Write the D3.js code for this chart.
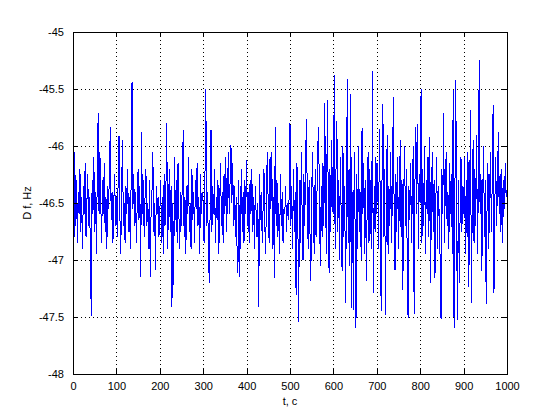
<!DOCTYPE html>
<html>
<head>
<meta charset="utf-8">
<script src="https://cdn.jsdelivr.net/npm/d3@7"></script>
<style>
  html, body { margin: 0; padding: 0; background: #fff; }
  svg { display: block; }
  text { font-family: "Liberation Sans", Arial, sans-serif; font-size: 11px; fill: #000; }
</style>
</head>
<body>
<svg id="chart" width="560" height="420"></svg>
<script>
// Sample spacing (seconds) and series values
const timeStep = 2;
const dfValues = [
  -46.55,-46.95,-46.05,-46.7,-46.3,-46.85,-46.4,-46.6,-46.2,-46.75,-46.45,-46.9,-46.35,-46.6,-46.15,-46.8,-46.5,-46.25,-46.7,-46.45,-46.9,-47.49,-46.3,-46.6,-46.1,-46.75,-46.4,-46.95,-46.2,-45.71,-46.6,-46.05,-46.5,-46.85,-46.3,-46.6,-46.15,-46.75,-46.45,-46.9,-46.35,-46.55,-46.2,-45.83,-46.65,-46.4,-46.85,-46.5,-46.25,-46.7,
  -46.45,-46.8,-46.3,-45.91,-46.6,-46.95,-46.4,-45.95,-46.7,-46.5,-46.85,-46.35,-46.6,-46.2,-46.75,-46.45,-46.9,-46.3,-45.44,-46.55,-46.25,-46.7,-46.4,-46.85,-46.5,-46.2,-46.65,-46.35,-47.15,-45.88,-46.6,-46.3,-46.8,-46.45,-46.2,-46.7,-46.5,-46.9,-46.3,-47.15,-46.55,-46.4,-46.05,-46.75,-46.5,-47.09,-46.35,-46.6,-46.45,-46.8,
  -46.6,-46.3,-46.85,-46.45,-46.95,-46.25,-46.7,-46.4,-45.8,-46.9,-46.55,-46.2,-46.75,-46.35,-47.41,-46.5,-47.22,-46.1,-46.65,-46.3,-46.85,-46.15,-46.6,-46.9,-46.4,-46.7,-46.25,-45.86,-46.8,-46.45,-46.95,-46.35,-46.6,-46.1,-46.75,-46.5,-46.9,-46.2,-46.65,-46.4,-46.85,-46.3,-46.55,-46.15,-46.7,-46.45,-46.95,-46.25,-46.6,-46.4,
  -46.5,-46.85,-46.3,-45.5,-46.7,-46.4,-46.9,-47.2,-46.55,-45.86,-46.75,-46.35,-46.6,-46.2,-46.85,-46.45,-46.65,-46.3,-46.95,-46.5,-46.15,-46.7,-46.4,-46.85,-46.25,-46.6,-46.1,-46.75,-46.4,-46.05,-46.6,-46.3,-45.99,-46.5,-46.15,-46.7,-46.35,-46.8,-46.45,-46.9,-47.11,-46.3,-47.15,-46.55,-46.2,-46.75,-46.4,-46.85,-46.3,-46.6,
  -46.12,-46.7,-46.4,-46.85,-46.3,-46.6,-46.2,-46.75,-46.45,-46.9,-46.35,-46.6,-46.8,-46.5,-47.41,-46.25,-46.65,-46.4,-46.85,-46.55,-46.2,-46.7,-46.95,-46.3,-46.05,-46.6,-46.85,-46.1,-46.55,-46.05,-46.9,-46.45,-47.16,-45.83,-46.7,-46.3,-46.8,-46.5,-46.95,-46.25,-46.7,-46.4,-46.85,-46.55,-46.6,-46.35,-46.75,-46.5,-46.65,-46.45,
  -45.8,-46.7,-46.35,-46.9,-46.2,-46.75,-46.4,-47.31,-46.15,-46.6,-47.54,-46.3,-46.85,-46.05,-46.6,-47.0,-46.25,-46.7,-46.1,-45.76,-46.55,-46.9,-46.3,-46.75,-47.18,-46.4,-46.05,-46.65,-46.95,-46.2,-46.8,-46.45,-46.0,-45.83,-46.6,-47.05,-46.35,-46.8,-46.15,-46.7,-45.62,-46.5,-46.95,-45.6,-46.4,-47.11,-46.2,-46.75,-45.95,-46.55,
  -46.6,-45.38,-46.9,-46.2,-45.78,-46.75,-46.3,-47.0,-46.1,-46.65,-47.1,-46.0,-46.8,-46.35,-47.38,-46.5,-45.41,-46.85,-46.2,-47.05,-45.54,-47.42,-46.4,-47.44,-46.05,-46.7,-47.6,-46.25,-46.9,-46.0,-46.75,-46.4,-47.0,-45.84,-46.6,-46.15,-46.95,-46.3,-47.18,-46.45,-46.05,-46.85,-46.2,-46.7,-46.9,-45.34,-47.29,-46.35,-46.75,-46.1,
  -46.6,-46.15,-46.9,-45.85,-46.5,-47.45,-46.3,-45.63,-46.8,-46.2,-47.48,-46.45,-45.9,-46.95,-46.35,-46.7,-46.05,-46.85,-46.4,-45.57,-46.6,-47.09,-46.25,-46.75,-46.1,-46.9,-46.5,-45.95,-46.8,-46.3,-47.26,-46.45,-46.0,-46.7,-46.2,-46.95,-47.51,-46.35,-46.65,-46.15,-46.85,-46.4,-46.0,-47.47,-46.3,-45.83,-46.6,-45.81,-46.9,-46.25,
  -46.5,-45.5,-46.85,-46.2,-46.7,-46.0,-46.95,-46.3,-46.6,-46.1,-46.8,-45.92,-47.2,-46.4,-46.05,-46.75,-46.3,-47.16,-46.5,-46.1,-46.9,-46.35,-46.65,-47.0,-47.52,-46.2,-46.6,-45.71,-46.85,-46.3,-46.05,-46.7,-46.4,-46.9,-46.15,-46.6,-46.25,-46.95,-45.51,-47.6,-46.4,-45.42,-46.8,-47.53,-46.3,-47.2,-46.6,-46.1,-46.75,-46.35,
  -46.6,-46.1,-46.95,-46.3,-46.8,-46.05,-47.24,-46.4,-45.68,-47.38,-46.5,-45.95,-46.85,-46.2,-46.7,-45.9,-46.95,-46.35,-45.25,-46.6,-46.25,-47.1,-46.45,-46.0,-46.8,-46.3,-47.39,-46.55,-46.15,-46.9,-46.4,-46.05,-46.75,-46.3,-45.64,-47.29,-46.5,-46.1,-46.7,-46.35,-45.88,-46.6,-46.25,-46.75,-46.2,-46.85,-46.3,-46.55,-46.15,-46.45,
  -46.39
];
const xTicks = [0, 100, 200, 300, 400, 500, 600, 700, 800, 900, 1000];
const yTicks = [-48, -47.5, -47, -46.5, -46, -45.5, -45];
const xDomain = [0, 1000];
const yDomain = [-48, -45];
const xLabel = "t, c";
const yLabel = "D f, Hz";

const svg = d3.select("#chart");
const m = { left: 73, top: 32, right: 53, bottom: 46 };
const W = 560, H = 420;
const pw = W - m.left - m.right, ph = H - m.top - m.bottom;

const x = d3.scaleLinear().domain(xDomain).range([m.left, m.left + pw]);
const y = d3.scaleLinear().domain(yDomain).range([m.top + ph, m.top]);

svg.append("rect").attr("width", W).attr("height", H).attr("fill", "#fff");

// grid
const grid = svg.append("g").attr("stroke", "#000").attr("stroke-width", 1)
  .attr("stroke-dasharray", "1,3").attr("shape-rendering", "crispEdges");
grid.selectAll("line.gx").data(xTicks.slice(1, -1)).join("line")
  .attr("x1", d => Math.round(x(d)) + 0.5).attr("x2", d => Math.round(x(d)) + 0.5)
  .attr("y1", m.top).attr("y2", m.top + ph);
grid.selectAll("line.gy").data(yTicks.slice(1, -1)).join("line")
  .attr("y1", d => Math.round(y(d)) + 0.5).attr("y2", d => Math.round(y(d)) + 0.5)
  .attr("x1", m.left).attr("x2", m.left + pw);

// data line
const line = d3.line().x((d, i) => x(i * timeStep)).y(d => y(d));
svg.append("path").datum(dfValues)
  .attr("d", line).attr("fill", "none").attr("stroke", "#0000ff").attr("stroke-width", 1)
  .attr("shape-rendering", "crispEdges");

// axes
const tickLen = 5;
const axB = d3.axisBottom(x).tickValues(xTicks).tickSizeInner(-tickLen).tickSizeOuter(0).tickPadding(8).tickFormat(d3.format("d"));
const axT = d3.axisTop(x).tickValues(xTicks).tickSizeInner(-tickLen).tickSizeOuter(0).tickFormat("");
const axL = d3.axisLeft(y).tickValues(yTicks).tickSizeInner(-tickLen).tickSizeOuter(0).tickPadding(9).tickFormat(d => String(d));
const axR = d3.axisRight(y).tickValues(yTicks).tickSizeInner(-tickLen).tickSizeOuter(0).tickFormat("");

function style(g) {
  g.selectAll("path").attr("stroke", "#000").attr("shape-rendering", "crispEdges");
  g.selectAll("line").attr("stroke", "#000").attr("shape-rendering", "crispEdges");
  g.selectAll("text").attr("fill", "#000").style("font-size", "11px").style("font-family", "'Liberation Sans', Arial, sans-serif");
}
svg.append("g").attr("transform", `translate(0,${m.top + ph})`).call(axB).call(style);
svg.append("g").attr("transform", `translate(0,${m.top})`).call(axT).call(style);
svg.append("g").attr("transform", `translate(${m.left},0)`).call(axL).call(style);
svg.append("g").attr("transform", `translate(${m.left + pw},0)`).call(axR).call(style);

// labels
svg.append("text").attr("x", m.left + pw / 2).attr("y", 405).attr("text-anchor", "middle").text(xLabel);
svg.append("text").attr("transform", `translate(31,${m.top + ph / 2}) rotate(-90)`)
  .attr("text-anchor", "middle").text(yLabel);
</script>
</body>
</html>
